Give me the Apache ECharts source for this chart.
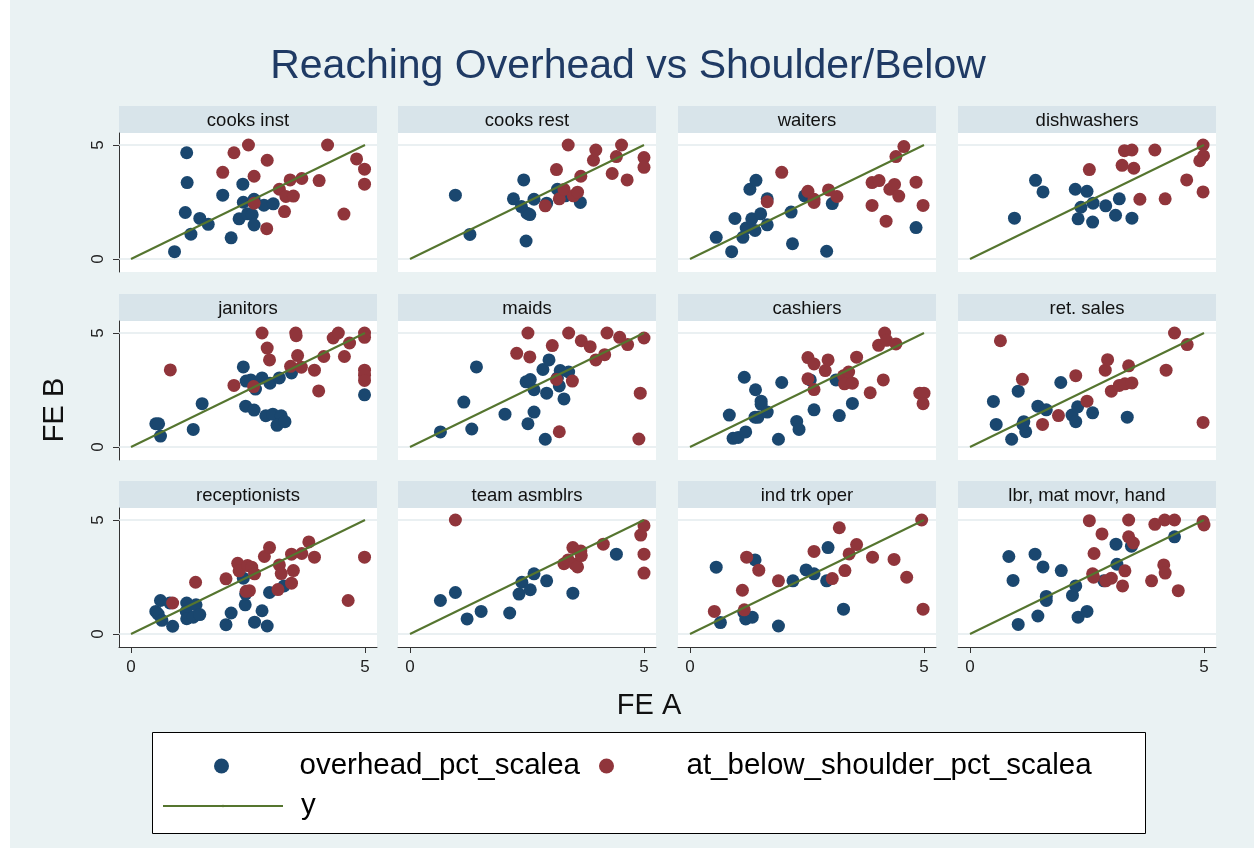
<!DOCTYPE html>
<html lang="en">
<head>
    <meta charset="UTF-8">
    <title>Reaching Overhead vs Shoulder/Below</title>
    <style>
        body {
            margin: 0;
            padding: 0;
            background-color: #fff;
        }
        #chart {
            position: absolute;
            left: 0;
            top: 0;
            width: 1254px;
            height: 848px;
            background: linear-gradient(to right, #fff 0, #fff 10px, #eaf2f3 10px);
        }
    </style>
</head>
<body>
    <div id="chart"></div>
    <script src="https://cdn.jsdelivr.net/npm/echarts@6.0.0/dist/echarts.min.js"></script>
    <script>
        // panel titles, row by row
        const panelNames = ['cooks inst', 'cooks rest', 'waiters', 'dishwashers',
            'janitors', 'maids', 'cashiers', 'ret. sales',
            'receptionists', 'team asmblrs', 'ind trk oper', 'lbr, mat movr, hand'];
        const tickValues = [0, 5];
        const diagonal = [[0, 0], [5, 5]];

        // overhead_pct_scalea points [FE A, FE B]
        const ohCooksInst = [[1.19, 4.66], [1.20, 3.35], [1.16, 2.04], [1.47, 1.78], [1.65, 1.52], [1.28, 1.09], [0.93, 0.32], [1.96, 2.80], [2.14, 0.93], [2.39, 3.28], [2.40, 2.49], [2.31, 1.76], [2.49, 1.98], [2.59, 1.94], [2.63, 2.62], [2.63, 1.49], [2.84, 2.36], [3.04, 2.42]];
        const ohCooksRest = [[0.97, 2.80], [1.28, 1.08], [2.43, 3.47], [2.21, 2.64], [2.38, 2.30], [2.50, 2.01], [2.56, 1.95], [2.48, 0.79], [2.65, 2.62], [2.92, 2.45], [3.15, 3.06], [3.32, 2.77], [3.64, 2.48]];
        const ohWaiters = [[0.56, 0.95], [0.89, 0.32], [0.96, 1.78], [1.13, 0.95], [1.20, 1.36], [1.32, 1.76], [1.39, 1.25], [1.28, 3.06], [1.41, 3.45], [1.51, 1.98], [1.65, 1.50], [1.65, 2.64], [2.16, 2.06], [2.19, 0.67], [2.45, 2.77], [2.92, 0.34], [3.04, 2.43], [4.83, 1.38]];
        const ohDishwashers = [[0.95, 1.79], [1.40, 3.45], [1.56, 2.94], [2.25, 3.06], [2.50, 2.97], [2.37, 2.27], [2.63, 2.45], [2.31, 1.76], [2.62, 1.62], [2.90, 2.33], [3.19, 2.64], [3.11, 1.92], [3.46, 1.79]];
        const ohJanitors = [[0.53, 1.02], [0.59, 1.02], [0.63, 0.48], [1.33, 0.77], [1.52, 1.90], [2.40, 3.51], [2.46, 2.89], [2.56, 2.94], [2.66, 2.54], [2.45, 1.79], [2.63, 1.62], [2.80, 3.03], [2.97, 2.80], [3.17, 3.03], [3.43, 3.25], [2.88, 1.37], [3.03, 1.44], [3.21, 1.37], [3.12, 0.95], [3.29, 1.11], [4.99, 2.29]];
        const ohMaids = [[0.65, 0.66], [1.15, 1.97], [1.32, 0.79], [1.42, 3.51], [2.03, 1.44], [2.52, 1.02], [2.65, 1.53], [2.48, 2.86], [2.57, 2.96], [2.65, 2.51], [2.89, 0.34], [2.92, 2.36], [2.84, 3.40], [2.97, 3.82], [3.21, 3.35], [3.39, 3.29], [3.19, 2.68], [3.29, 2.11], [3.15, 3.03]];
        const ohCashiers = [[0.84, 1.40], [0.92, 0.38], [1.03, 0.42], [1.19, 0.66], [1.16, 3.06], [1.40, 2.51], [1.52, 2.01], [1.52, 1.87], [1.39, 1.31], [1.45, 1.30], [1.65, 1.53], [1.89, 0.34], [1.96, 2.83], [2.28, 1.12], [2.33, 0.77], [2.57, 2.94], [2.65, 1.63], [3.12, 2.94], [3.19, 1.38], [3.47, 1.91]];
        const ohRetSales = [[0.50, 2.00], [0.56, 0.99], [0.89, 0.34], [1.03, 2.45], [1.15, 1.11], [1.19, 0.67], [1.13, 0.99], [1.45, 1.79], [1.63, 1.63], [1.94, 2.83], [2.18, 1.40], [2.26, 1.11], [2.30, 1.76], [2.62, 1.50], [3.36, 1.31]];
        const ohReceptionists = [[0.53, 0.99], [0.58, 0.87], [0.63, 1.47], [0.66, 0.60], [0.89, 0.34], [0.83, 1.36], [1.19, 1.36], [1.18, 0.99], [1.19, 0.67], [1.33, 0.74], [1.39, 1.28], [1.47, 0.85], [2.03, 0.41], [2.14, 0.92], [2.40, 2.45], [2.44, 1.28], [2.45, 1.76], [2.64, 0.52], [2.80, 1.02], [2.91, 0.35], [2.96, 1.82], [3.27, 2.11]];
        const ohTeamAsmblrs = [[0.65, 1.47], [0.97, 1.82], [1.22, 0.66], [1.52, 0.99], [2.13, 0.92], [2.33, 1.75], [2.39, 2.27], [2.57, 1.94], [2.65, 2.64], [2.92, 2.33], [3.48, 1.79], [4.41, 3.50]];
        const ohIndTrkOper = [[0.56, 2.93], [0.65, 0.50], [1.15, 0.95], [1.19, 0.66], [1.33, 0.74], [1.39, 3.25], [1.89, 0.35], [2.20, 2.33], [2.48, 2.81], [2.65, 2.64], [2.92, 2.33], [2.95, 3.79], [3.28, 1.09]];
        const ohLbrMatMovr = [[0.83, 3.40], [0.92, 2.35], [1.03, 0.42], [1.39, 3.50], [1.56, 2.94], [1.45, 0.79], [1.63, 1.65], [1.63, 1.47], [1.95, 2.78], [2.19, 1.69], [2.26, 2.11], [2.31, 0.74], [2.50, 0.99], [2.86, 2.33], [3.12, 3.94], [3.14, 3.06], [3.45, 3.85], [4.37, 4.26]];

        // at_below_shoulder_pct_scalea points [FE A, FE B]
        const shCooksInst = [[2.51, 5.00], [2.20, 4.66], [1.96, 3.80], [2.91, 4.33], [2.63, 3.63], [2.63, 2.45], [2.90, 1.33], [3.17, 3.06], [3.28, 2.08], [3.31, 2.74], [3.47, 2.76], [3.40, 3.47], [3.65, 3.53], [4.02, 3.44], [4.20, 5.00], [4.55, 1.97], [4.82, 4.39], [4.99, 3.94], [4.99, 3.28]];
        const shCooksRest = [[3.38, 5.00], [3.13, 3.92], [2.89, 2.33], [3.19, 2.64], [3.29, 3.05], [3.49, 2.77], [3.58, 2.93], [3.65, 3.63], [3.92, 4.33], [3.97, 4.78], [4.32, 3.75], [4.41, 4.49], [4.52, 5.00], [4.64, 3.47], [5.00, 4.45], [5.00, 4.02]];
        const shWaiters = [[1.65, 2.51], [1.96, 3.80], [2.52, 2.97], [2.65, 2.62], [2.65, 2.48], [2.96, 3.03], [3.14, 2.74], [3.89, 3.35], [4.04, 3.44], [3.89, 2.35], [4.19, 1.66], [4.27, 3.06], [4.37, 3.27], [4.46, 2.76], [4.40, 4.49], [4.57, 4.93], [4.83, 3.37], [4.98, 2.35]];
        const shDishwashers = [[2.55, 3.92], [3.30, 4.75], [3.46, 4.78], [3.95, 4.78], [3.25, 4.11], [3.50, 3.98], [3.63, 2.62], [4.17, 2.64], [4.63, 3.47], [4.98, 5.00], [4.99, 4.52], [4.91, 4.31], [4.98, 2.94]];
        const shJanitors = [[0.84, 3.38], [2.20, 2.70], [2.62, 2.65], [2.80, 5.00], [2.91, 4.34], [2.96, 3.82], [3.52, 5.00], [3.53, 4.88], [3.56, 4.01], [3.41, 3.54], [3.64, 3.50], [3.92, 3.37], [4.01, 2.46], [4.12, 3.97], [4.32, 4.78], [4.43, 5.00], [4.67, 4.56], [4.56, 3.97], [4.99, 5.00], [4.99, 4.81], [4.99, 3.37], [4.99, 3.15], [4.99, 2.92]];
        const shMaids = [[2.52, 5.00], [2.28, 4.11], [2.56, 3.95], [3.04, 4.45], [3.13, 2.96], [3.19, 0.67], [3.39, 5.00], [3.47, 2.89], [3.66, 4.66], [3.85, 4.40], [3.97, 3.82], [4.16, 4.05], [4.21, 5.00], [4.48, 4.81], [4.65, 4.49], [5.00, 4.78], [4.92, 2.36], [4.89, 0.35]];
        const shCashiers = [[2.52, 3.92], [2.65, 3.64], [2.52, 2.99], [2.65, 2.52], [2.89, 3.35], [2.95, 3.82], [3.28, 3.12], [3.39, 3.29], [3.30, 2.77], [3.47, 2.80], [3.56, 3.94], [3.85, 2.38], [4.03, 4.46], [4.16, 5.00], [4.20, 4.68], [4.40, 4.52], [4.13, 2.94], [4.91, 2.36], [5.00, 2.36], [4.98, 1.90]];
        const shRetSales = [[0.65, 4.66], [1.12, 2.97], [1.55, 0.99], [1.89, 1.38], [2.26, 3.13], [2.50, 2.01], [2.89, 3.37], [2.94, 3.83], [3.02, 2.45], [3.19, 2.70], [3.31, 2.77], [3.46, 2.81], [3.39, 3.56], [4.19, 3.37], [4.37, 5.00], [4.64, 4.49], [4.98, 1.08]];
        const shReceptionists = [[0.89, 1.36], [1.38, 2.27], [2.03, 2.42], [2.28, 3.10], [2.31, 2.77], [2.49, 3.00], [2.58, 2.93], [2.64, 2.64], [2.46, 1.87], [2.53, 1.90], [2.85, 3.40], [2.96, 3.79], [3.17, 3.03], [3.21, 2.65], [3.14, 1.95], [3.43, 3.50], [3.47, 2.78], [3.43, 2.23], [3.65, 3.53], [3.80, 4.04], [3.92, 3.37], [4.64, 1.47], [4.99, 3.37]];
        const shTeamAsmblrs = [[0.97, 5.00], [3.29, 3.08], [3.38, 3.25], [3.48, 3.79], [3.52, 3.06], [3.58, 2.94], [3.65, 3.64], [3.66, 3.44], [4.13, 3.94], [4.93, 4.34], [5.00, 4.75], [5.00, 3.50], [5.00, 2.67]];
        const shIndTrkOper = [[0.52, 0.99], [1.12, 1.92], [1.16, 1.06], [1.21, 3.37], [1.47, 2.80], [1.89, 2.33], [2.65, 3.62], [3.04, 2.43], [3.19, 4.66], [3.31, 2.78], [3.40, 3.51], [3.56, 3.92], [3.90, 3.37], [4.36, 3.27], [4.63, 2.49], [4.95, 5.00], [4.98, 1.09]];
        const shLbrMatMovr = [[2.55, 4.97], [2.82, 4.39], [2.65, 3.53], [2.62, 2.64], [2.64, 2.49], [2.90, 2.33], [3.02, 2.45], [3.26, 2.11], [3.31, 2.77], [3.39, 5.00], [3.39, 4.26], [3.49, 3.99], [3.88, 2.33], [3.95, 4.81], [4.16, 5.00], [4.37, 5.00], [4.14, 3.03], [4.17, 2.67], [4.45, 1.90], [4.98, 4.93], [5.00, 4.78]];

        const overheadPts = [ohCooksInst, ohCooksRest, ohWaiters, ohDishwashers, ohJanitors, ohMaids,
            ohCashiers, ohRetSales, ohReceptionists, ohTeamAsmblrs, ohIndTrkOper, ohLbrMatMovr];
        const shoulderPts = [shCooksInst, shCooksRest, shWaiters, shDishwashers, shJanitors, shMaids,
            shCashiers, shRetSales, shReceptionists, shTeamAsmblrs, shIndTrkOper, shLbrMatMovr];

        const FONT = "'Liberation Sans', Arial, sans-serif";
        const BLUE = '#1a476f';
        const RED = '#90353b';
        const GREEN = '#55752f';
        const colLeft = [119, 398, 678, 958];
        const rowTop = [106, 294, 481];
        const panelW = 258;
        const stripH = 27;
        const plotH = 139;

        const chart = echarts.init(document.getElementById('chart'), null, { renderer: 'canvas' });

        const grids = [], xAxes = [], yAxes = [], series = [], graphics = [];

        panelNames.forEach((name, i) => {
            const col = i % 4, row = Math.floor(i / 4);
            const left = colLeft[col], top = rowTop[row];
            const bottomRow = row === 2;

            grids.push({
                left: left, top: top + stripH, width: panelW, height: plotH,
                show: true, backgroundColor: '#fff', borderWidth: 0
            });
            xAxes.push({
                gridIndex: i, type: 'value', min: -0.2564, max: 5.2564,
                axisLine: { show: bottomRow, onZero: false, lineStyle: { color: '#333', width: 1 } },
                axisTick: { show: bottomRow, customValues: tickValues, length: 6, lineStyle: { color: '#333' } },
                axisLabel: { show: bottomRow, customValues: tickValues, margin: 12, fontSize: 17, color: '#222', fontFamily: FONT },
                splitLine: { show: false }
            });
            yAxes.push({
                gridIndex: i, type: 'value', min: -0.57, max: 5.526,
                axisLine: { show: col === 0, onZero: false, lineStyle: { color: '#333', width: 1 } },
                axisTick: { show: col === 0, customValues: tickValues, length: 6, lineStyle: { color: '#333' } },
                axisLabel: { show: col === 0, customValues: tickValues, rotate: 90, margin: 12, fontSize: 17, color: '#222', fontFamily: FONT },
                splitLine: { show: false }
            });

            // light grid lines at the tick values
            series.push({
                type: 'line', xAxisIndex: i, yAxisIndex: i, data: [], z: 1, silent: true,
                markLine: {
                    z: 1, silent: true, symbol: 'none', animation: false,
                    label: { show: false },
                    lineStyle: { color: '#e3ebee', width: 1.5, type: 'solid' },
                    data: tickValues.map(v => ({ yAxis: v }))
                }
            });
            series.push({
                name: 'overhead_pct_scalea', type: 'scatter', xAxisIndex: i, yAxisIndex: i,
                data: overheadPts[i], symbol: 'circle', symbolSize: 13, z: 3,
                itemStyle: { color: BLUE, opacity: 1 }
            });
            series.push({
                name: 'at_below_shoulder_pct_scalea', type: 'scatter', xAxisIndex: i, yAxisIndex: i,
                data: shoulderPts[i], symbol: 'circle', symbolSize: 13, z: 3,
                itemStyle: { color: RED, opacity: 1 }
            });
            series.push({
                name: 'y', type: 'line', xAxisIndex: i, yAxisIndex: i,
                data: diagonal, symbol: 'none', showSymbol: false, z: 4,
                lineStyle: { color: GREEN, width: 2 }, itemStyle: { color: GREEN }
            });

            // strip header
            graphics.push({
                type: 'rect', shape: { x: left, y: top, width: panelW, height: stripH },
                style: { fill: '#d8e4ea' }, silent: true
            });
            graphics.push({
                type: 'text', x: left + panelW / 2, y: top + stripH / 2 + 1,
                style: { text: name, font: '18.5px ' + FONT, fill: '#111', align: 'center', verticalAlign: 'middle' },
                silent: true
            });
        });

        // titles and legend frame
        graphics.push({
            type: 'text', x: 628, y: 67,
            style: { text: 'Reaching Overhead vs Shoulder/Below', font: '41px ' + FONT, fill: '#1f3a64', align: 'center', verticalAlign: 'middle' }
        });
        graphics.push({
            type: 'text', x: 649, y: 706,
            style: { text: 'FE A', font: '29px ' + FONT, fill: '#111', align: 'center', verticalAlign: 'middle' }
        });
        graphics.push({
            type: 'text', x: 55, y: 410, rotation: Math.PI / 2,
            style: { text: 'FE B', font: '29px ' + FONT, fill: '#111', align: 'center', verticalAlign: 'middle' }
        });
        graphics.push({
            type: 'rect', shape: { x: 152.5, y: 732.5, width: 993, height: 101 },
            style: { fill: '#fff', stroke: '#000', lineWidth: 1 }, z: -1
        });

        const legendBase = {
            orient: 'horizontal', padding: 0, itemWidth: 120, itemHeight: 15,
            selectedMode: false,
            textStyle: { fontSize: 29.5, color: '#000', fontFamily: FONT, lineHeight: 34, padding: [0, 0, 0, 13] }
        };

        const option = {
            animation: false,
            backgroundColor: 'transparent',
            grid: grids,
            xAxis: xAxes,
            yAxis: yAxes,
            series: series,
            graphic: graphics,
            legend: [
                // circle keys sit at the left of their item box, so the box starts at the dot
                Object.assign({}, legendBase, { data: [{ name: 'overhead_pct_scalea', icon: 'circle' }], left: 214, top: 749 }),
                Object.assign({}, legendBase, { data: [{ name: 'at_below_shoulder_pct_scalea', icon: 'circle' }], left: 599, top: 749,
                    textStyle: Object.assign({}, legendBase.textStyle, { padding: [0, 0, 0, 15] }) }),
                Object.assign({}, legendBase, { data: ['y'], left: 162, top: 789, itemHeight: 3 })
            ]
        };

        chart.setOption(option);
    </script>
</body>
</html>
